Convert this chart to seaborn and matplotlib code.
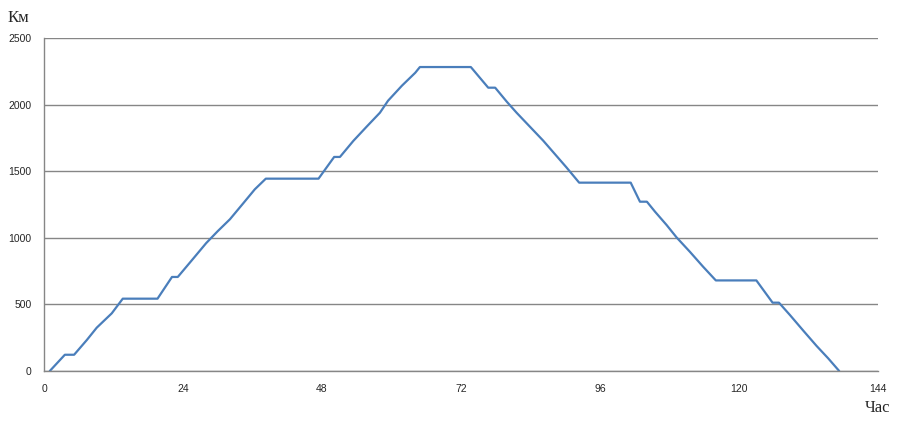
import matplotlib
matplotlib.use("Agg")
import matplotlib.pyplot as plt
import seaborn as sns
import pandas as pd

hours = [1.0, 3.6, 5.2, 7.4, 9.1, 11.7, 13.6, 19.6, 22.1, 23.1, 25.5, 28.0, 30.0, 32.1,
         34.4, 36.4, 38.3, 47.4, 50.1, 51.1, 53.4, 55.7, 58.0, 59.4, 61.8, 64.1, 64.9,
         73.7, 76.7, 77.9, 79.9, 81.6, 83.9, 86.2, 88.5, 90.2, 92.4, 101.3, 102.9, 104.1,
         105.5, 107.5, 109.2, 111.5, 113.8, 116.0, 123.0, 125.8, 126.9, 128.8, 131.1,
         133.4, 135.4, 137.3]
km = [0, 122, 122, 233, 325, 433, 543, 543, 706, 706, 830, 960, 1050, 1139,
      1259, 1364, 1444, 1444, 1607, 1607, 1727, 1834, 1939, 2029, 2142, 2239, 2282,
      2282, 2127, 2127, 2022, 1939, 1834, 1729, 1614, 1529, 1414, 1414, 1271, 1271,
      1196, 1096, 1004, 896, 783, 680, 680, 513, 513, 420, 303, 188, 95, 0]
x_ticks = [0, 24, 48, 72, 96, 120, 144]
y_ticks = [0, 500, 1000, 1500, 2000, 2500]
y_label = "Км"
x_label = "Час"

df = pd.DataFrame({"h": hours, "km": km})

sns.set_style("white")
fig = plt.figure(figsize=(9.16, 4.33), dpi=100)
ax = fig.add_axes([44/916, 1-371/433, 834/916, 333/433])

sns.lineplot(data=df, x="h", y="km", ax=ax, color="#4A7EBB", linewidth=1.6,
             sort=False, estimator=None)

ax.set_xlim(0, 144)
ax.set_ylim(0, 2500)
ax.set_xticks(x_ticks)
ax.set_yticks(y_ticks)
ax.set_xlabel("")
ax.set_ylabel("")

grid_c = "#868686"
for y in y_ticks:
    ax.axhline(y, color=grid_c, linewidth=1.0, zorder=0)

for s in ["top", "right"]:
    ax.spines[s].set_visible(False)
for s in ["left", "bottom"]:
    ax.spines[s].set_color(grid_c)
    ax.spines[s].set_linewidth(1.0)

ax.tick_params(axis="y", length=5, width=1.0, color=grid_c, direction="out",
               labelsize=7.5, pad=4)
ax.tick_params(axis="x", length=5, width=1.0, color=grid_c, direction="out",
               labelsize=7.5, pad=4)
for lab in ax.get_xticklabels() + ax.get_yticklabels():
    lab.set_family(["Liberation Sans", "DejaVu Sans"])

fig.text(8/916, 1-18/433, y_label, fontsize=12, family=["Liberation Serif", "DejaVu Serif"],
         va="center", ha="left")
fig.text(865/916, 1-408/433, x_label, fontsize=12, family=["Liberation Serif", "DejaVu Serif"],
         va="center", ha="left")

fig.savefig("out.png", dpi=100)
